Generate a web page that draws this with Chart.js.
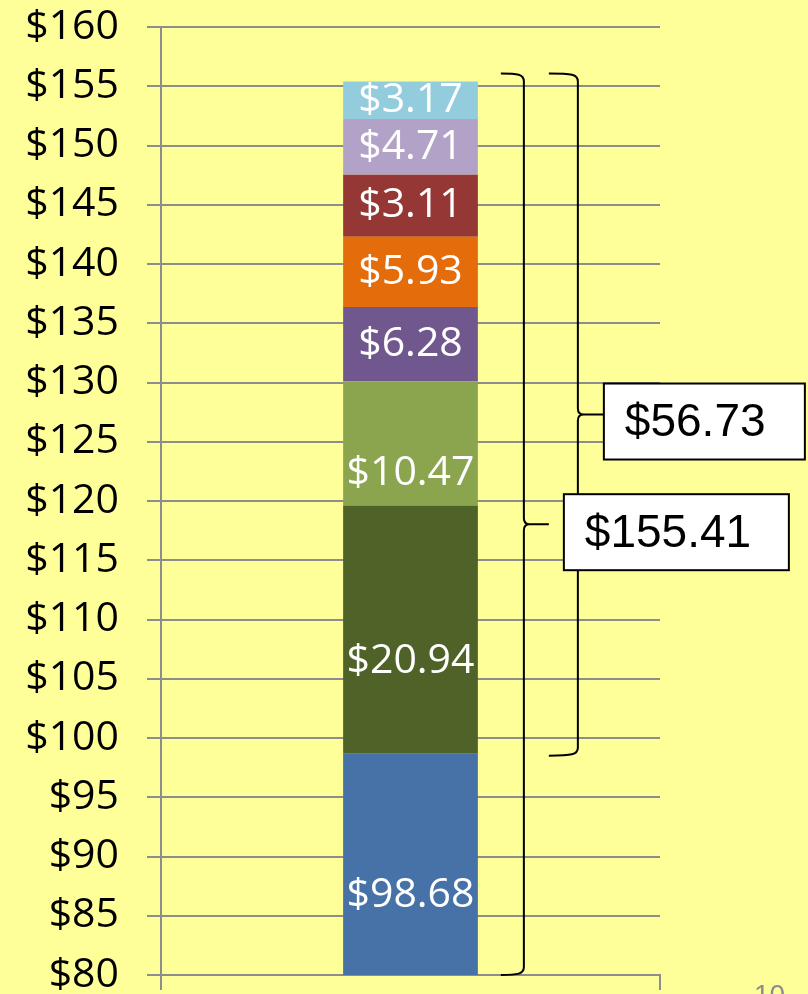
<!DOCTYPE html>
<html><head><meta charset="utf-8">
<script src="https://cdn.jsdelivr.net/npm/chart.js@4/dist/chart.umd.min.js"></script>
<style>
html,body{margin:0;padding:0;background:#FFFF99;overflow:hidden;}
#wrap{position:relative;width:808px;height:994px;}
#pg{position:absolute;left:754px;top:979px;font:28px "Liberation Sans",Arial,sans-serif;color:#8c8c8c;}
</style></head><body>
<div id="wrap"><canvas id="c" width="808" height="994"></canvas><div id="pg">10</div></div>
<script>
// ---- data ----
const categories = [''];
const seriesNames = ['S1','S2','S3','S4','S5','S6','S7','S8'];
const seriesValues = [98.68, 20.94, 10.47, 6.28, 5.93, 5.23, 4.71, 3.17];
const segmentLabels = ['$98.68','$20.94','$10.47','$6.28','$5.93','$3.11','$4.71','$3.17'];
const seriesColors = ['#4672A8','#4F6228','#8BA54E','#70588F','#E46C0A','#953735','#B3A2C7','#93CDDD'];
const yMin = 80, yMax = 160, yStep = 5;
const totalLabels = ['$155.41', '$56.73'];

// ---- styles ----
const GRID = '#8D8D8D';
const labelShift = [31, 32, 30, 0, 0, 0, 0, 0];

const segLabelsPlugin = {
  id: 'segLabels',
  afterDatasetsDraw(chart) {
    const ctx = chart.ctx, area = chart.chartArea;
    ctx.save();
    ctx.font = '41px "Open Sans"';
    ctx.fillStyle = '#FFFFFF';
    ctx.textAlign = 'center';
    ctx.textBaseline = 'middle';
    chart.data.datasets.forEach((ds, i) => {
      const el = chart.getDatasetMeta(i).data[0];
      const top = Math.max(el.y, area.top);
      const bot = Math.min(el.base, area.bottom);
      ctx.fillText(segmentLabels[i], el.x, (top + bot) / 2 + labelShift[i]);
    });
    ctx.restore();
  }
};

function brace(ctx, x, hookX, top, bottom, tipEnd) {
  const mid = (top + bottom) / 2;
  ctx.beginPath();
  ctx.moveTo(hookX, top);
  ctx.bezierCurveTo(x - 6, top, x, top + 1, x, top + 8);
  ctx.lineTo(x, mid - 6);
  ctx.quadraticCurveTo(x, mid, x + 6, mid);
  ctx.quadraticCurveTo(x, mid, x, mid + 6);
  ctx.lineTo(x, bottom - 8);
  ctx.bezierCurveTo(x, bottom - 1, x - 6, bottom, hookX, bottom);
  ctx.moveTo(x + 5, mid);
  ctx.lineTo(tipEnd, mid);
  ctx.stroke();
  return mid;
}

function box(ctx, left, cy, w, h, text) {
  ctx.fillStyle = '#FFFFFF';
  ctx.fillRect(left, cy - h / 2, w, h);
  ctx.strokeStyle = '#000';
  ctx.lineWidth = 2;
  ctx.strokeRect(left, cy - h / 2, w, h);
  ctx.fillStyle = '#000';
  ctx.font = '46px "Liberation Sans", Arial, sans-serif';
  ctx.textAlign = 'left';
  ctx.textBaseline = 'middle';
  ctx.fillText(text, left + 21, cy + 2);
}

const annotPlugin = {
  id: 'annot',
  afterDatasetsDraw(chart) {
    const ctx = chart.ctx, y = chart.scales.y;
    const bar = chart.getDatasetMeta(0).data[0];
    const barRight = bar.x + bar.width / 2;
    const total = seriesValues.reduce((a, b) => a + b, 0);
    const top = y.getPixelForValue(total) - 8;
    ctx.save();
    ctx.strokeStyle = '#000';
    ctx.lineWidth = 2;
    const x1 = barRight + 46, x2 = barRight + 100;
    const mid1 = brace(ctx, x1, barRight + 23, top, y.getPixelForValue(yMin), x1 + 25);
    ctx.strokeStyle = '#000';
    const mid2 = brace(ctx, x2, barRight + 71, top, y.getPixelForValue(seriesValues[0]) + 2, x2 + 26);
    box(ctx, x2 + 26, mid2 + 7, 201, 76, totalLabels[1]);
    box(ctx, x1 + 40, mid1 + 8, 225, 76, totalLabels[0]);
    ctx.restore();
  }
};

const bgPlugin = {
  id: 'bg',
  beforeDraw(chart) {
    const ctx = chart.ctx;
    ctx.save();
    ctx.fillStyle = '#FFFF99';
    ctx.fillRect(0, 0, chart.width, chart.height);
    ctx.restore();
  }
};

new Chart(document.getElementById('c'), {
  type: 'bar',
  data: {
    labels: categories,
    datasets: seriesValues.map((v, i) => ({
      label: seriesNames[i],
      data: [v],
      backgroundColor: seriesColors[i],
      borderWidth: 0,
      barPercentage: 0.27,
      categoryPercentage: 1
    }))
  },
  options: {
    responsive: false,
    animation: false,
    devicePixelRatio: 1,
    layout: { padding: { left: 0, top: 27, right: 148, bottom: 0 } },
    plugins: { legend: { display: false }, tooltip: { enabled: false } },
    scales: {
      x: {
        stacked: true,
        offset: true,
        grid: { offset: true, drawOnChartArea: false, drawTicks: true, tickLength: 15, color: GRID, lineWidth: 2 },
        border: { display: true, color: GRID, width: 2 },
        ticks: { display: false },
        afterFit(s) { s.height = 19; }
      },
      y: {
        stacked: true,
        min: yMin, max: yMax,
        ticks: {
          stepSize: yStep,
          callback: v => '$' + v,
          color: '#000',
          padding: 28,
          font: { family: '"Open Sans"', size: 41, lineHeight: 0.8 }
        },
        grid: { color: GRID, lineWidth: 2, tickLength: 14 },
        border: { display: true, color: GRID, width: 2 },
        afterFit(s) { s.width = 161; s.paddingTop = 0; s.paddingBottom = 0; }
      }
    }
  },
  plugins: [bgPlugin, segLabelsPlugin, annotPlugin]
});
</script>
</body></html>
